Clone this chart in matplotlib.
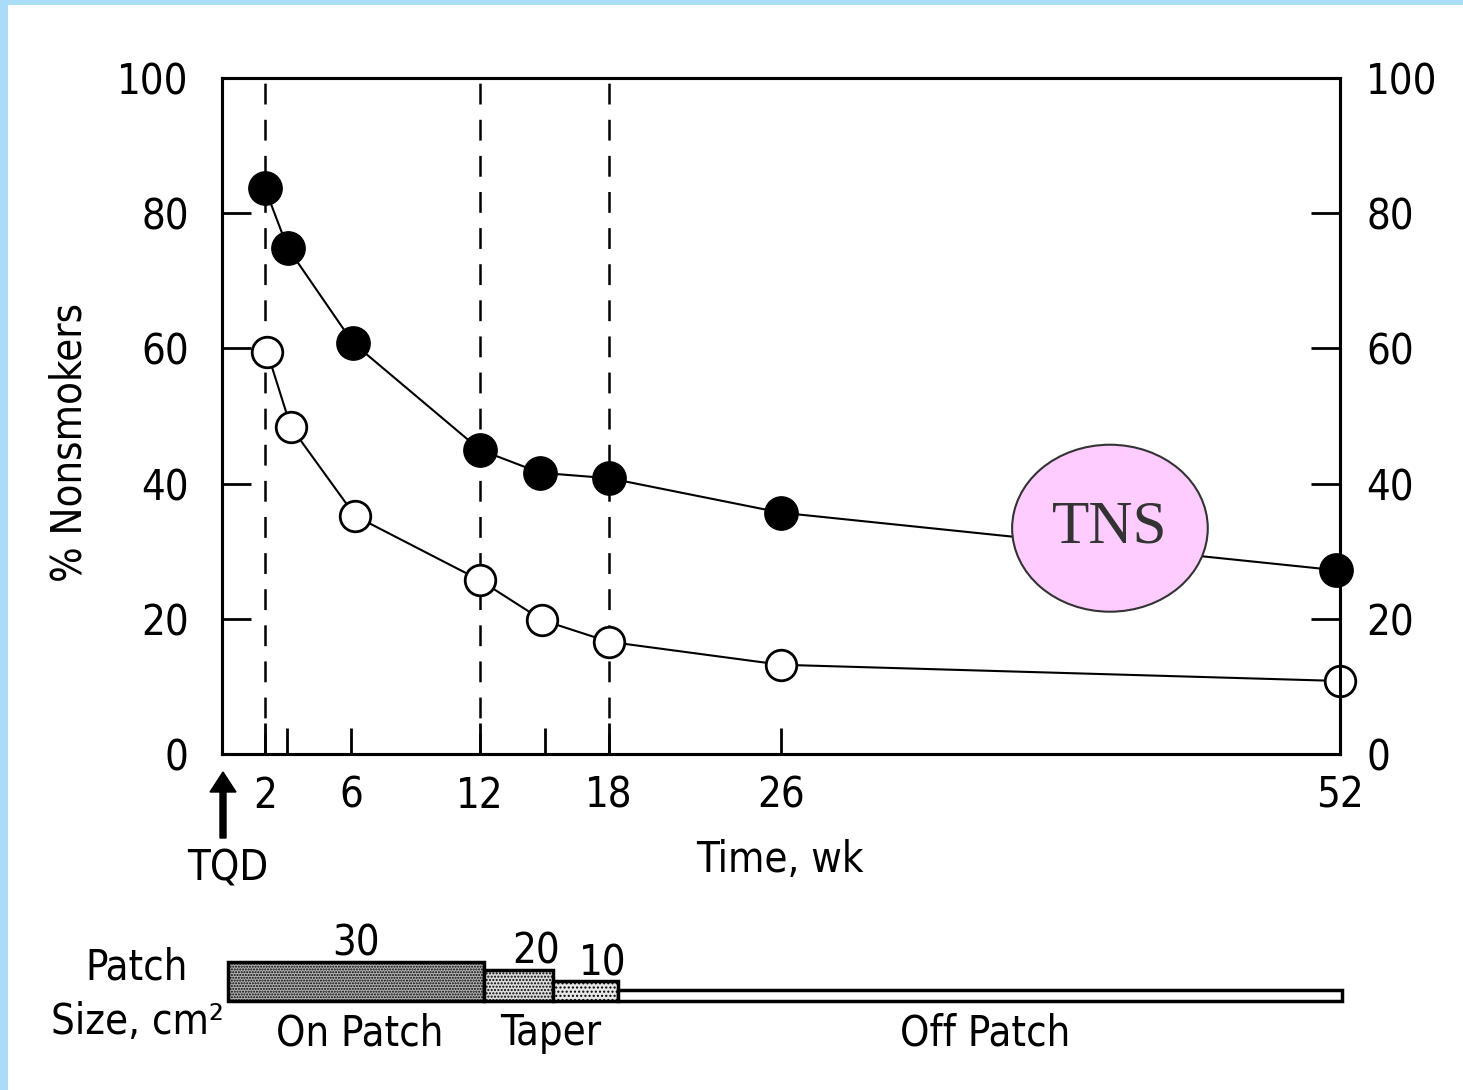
import matplotlib
matplotlib.use('Agg')
import matplotlib.pyplot as plt
from matplotlib import font_manager as fm
from matplotlib.patches import Ellipse, Rectangle, FancyArrow
from matplotlib.transforms import IdentityTransform

# ---------------- data ----------------
active_weeks = [2.0, 3.05, 6.1, 12.0, 14.8, 18.0, 26.0, 51.8]
active_pct = [83.7, 74.9, 60.8, 45.0, 41.6, 40.8, 35.7, 27.2]
placebo_weeks = [2.1, 3.2, 6.2, 12.0, 14.9, 18.0, 26.0, 52.0]
placebo_pct = [59.5, 48.4, 35.2, 25.7, 19.8, 16.6, 13.2, 10.8]

x_label_ticks = [2, 6, 12, 18, 26, 52]
x_long_ticks = [2, 12, 18]
x_minor_ticks = [3, 15]
y_ticks = [0, 20, 40, 60, 80, 100]
phase_lines = [2, 12, 18]

patch_start = [0.3, 12.2, 15.4, 18.4]
patch_end = [12.2, 15.4, 18.4, 52.1]
patch_sizes = ['30', '20', '10', '']
patch_bar_heights = [39, 31, 20, 11]
patch_colors = ['#b4b4b4', '#dcdcdc', '#e8e8e8', 'white']
patch_hatches = ['......', '.....', '....', None]
phase_names = ['On Patch', 'Taper', 'Off Patch']
phase_centers = [6.4, 15.3, 35.5]

W, H = 1463, 1090

# pick a narrow sans font if one is installed
narrow = None
for f in fm.fontManager.ttflist:
    nm = f.name.lower()
    fn = f.fname.lower()
    if f.style != 'normal' or f.weight not in (400, 'normal', 'regular'):
        continue
    if 'serif' in nm and 'sans' not in nm:
        continue
    if 'mono' in nm:
        continue
    if ('narrow' in nm or 'condensed' in nm or 'narrow' in fn or 'condensed' in fn
            or f.stretch in ('condensed', 'semi-condensed')):
        if 'extra' in fn or 'semi' in fn or 'ultra' in fn:
            continue
        narrow = f.fname
        break

plt.rcParams['font.family'] = ['Liberation Sans', 'DejaVu Sans']
plt.rcParams['lines.scale_dashes'] = False
plt.rcParams['hatch.linewidth'] = 1.0

FS = 30
if narrow:
    FP = fm.FontProperties(fname=narrow, size=FS)
else:
    FP = fm.FontProperties(family=['Liberation Sans', 'DejaVu Sans'], size=FS - 1)

fig = plt.figure(figsize=(W / 100, H / 100), dpi=100)

def fx(x):
    return x / W

def fy(y):
    return 1 - y / H

ax_l, ax_r, ax_t, ax_b = 222, 1340, 78, 754
ax = fig.add_axes([fx(ax_l), fy(ax_b), (ax_r - ax_l) / W, (ax_b - ax_t) / H])
ax.set_xlim(0, 52)
ax.set_ylim(0, 100)
for s in ax.spines.values():
    s.set_linewidth(2.2)

for xv in phase_lines:
    ax.plot([xv, xv], [0, 100], color='black', lw=1.8, linestyle=(0, (15, 11)), zorder=1)

ax.plot(active_weeks, active_pct, color='black', lw=1.5, marker='o', markersize=24,
        markerfacecolor='black', markeredgecolor='black', clip_on=False, zorder=3)
ax.plot(placebo_weeks, placebo_pct, color='black', lw=1.5, marker='o', markersize=22,
        markerfacecolor='white', markeredgecolor='black', markeredgewidth=2, clip_on=False, zorder=3)

# x ticks
ax.xaxis.remove_overlapping_locs = False
ax.set_xticks(x_label_ticks)
ax.set_xticklabels([str(v) for v in x_label_ticks], fontproperties=FP)
ax.tick_params(axis='x', which='major', direction='in', length=19, width=2, pad=15)
for t, v in zip(ax.xaxis.get_major_ticks(), x_label_ticks):
    if v == 52:
        t.tick1line.set_visible(False)
    else:
        t.tick1line.set_markersize(22 if v in x_long_ticks else 19)
ax.set_xticks(x_minor_ticks, minor=True)
ax.tick_params(axis='x', which='minor', direction='in', width=2, length=19)

# y ticks left
ax.set_yticks(y_ticks)
ax.set_yticklabels([str(v) for v in y_ticks], fontproperties=FP)
ax.tick_params(axis='y', direction='in', length=21, width=2, pad=24)

ax2 = ax.twinx()
ax2.set_ylim(0, 100)
ax2.set_yticks(y_ticks)
ax2.set_yticklabels([str(v) for v in y_ticks], fontproperties=FP)
ax2.tick_params(axis='y', direction='in', length=21, width=2, pad=19)
for s in ax2.spines.values():
    s.set_linewidth(2.2)

ell = Ellipse((41.3, 33.4), 9.1, 24.7, facecolor='#ffccff', edgecolor='#333333', lw=1.5, zorder=5)
ax.add_patch(ell)
ax.text(41.3, 33.4, 'TNS', fontsize=44, family=['Liberation Serif', 'DejaVu Serif'],
        color='#333333', ha='center', va='center', zorder=6)

fig.text(fx(70), fy(442), '% Nonsmokers', rotation=90, fontproperties=FP, ha='center', va='center')
fig.text(fx(780), fy(860), 'Time, wk', fontproperties=FP, ha='center', va='center')
fig.text(fx(228), fy(868), 'TQD', fontproperties=FP, ha='center', va='center')

fig.add_artist(FancyArrow(223, H - 838, 0, 66, width=6, head_width=26, head_length=20,
                          length_includes_head=True, transform=IdentityTransform(),
                          color='black'))

pax = fig.add_axes([fx(ax_l), fy(1060), (ax_r - ax_l) / W, 160 / H])
pax.set_xlim(0, 52)
pax.set_ylim(0, 160)
pax.axis('off')
base = 59
for s0, s1, h, c, hat in zip(patch_start, patch_end, patch_bar_heights, patch_colors, patch_hatches):
    pax.add_patch(Rectangle((s0, base), s1 - s0, h, facecolor=c, edgecolor='black',
                            lw=2.5, hatch=hat, clip_on=False))
for s0, s1, h, lab in zip(patch_start, patch_end, patch_bar_heights, patch_sizes):
    if lab:
        pax.text((s0 + s1) / 2 + (0 if s0 < 1 else 0.8), base + h + 18, lab, fontproperties=FP,
                 ha='center', va='center')
for name, xc in zip(phase_names, phase_centers):
    pax.text(xc, 27, name, fontproperties=FP, ha='center', va='center')

fig.text(fx(137), fy(968), 'Patch', fontproperties=FP, ha='center', va='center')
fig.text(fx(137), fy(1022), 'Size, cm²', fontproperties=FP, ha='center', va='center')

fig.add_artist(Rectangle((0, 1 - 5 / H), 1, 5 / H, transform=fig.transFigure,
                         facecolor='#a9dcf7', edgecolor='none'))
fig.add_artist(Rectangle((0, 0), 8 / W, 1, transform=fig.transFigure,
                         facecolor='#a9dcf7', edgecolor='none'))

fig.savefig('out.png', dpi=100)
